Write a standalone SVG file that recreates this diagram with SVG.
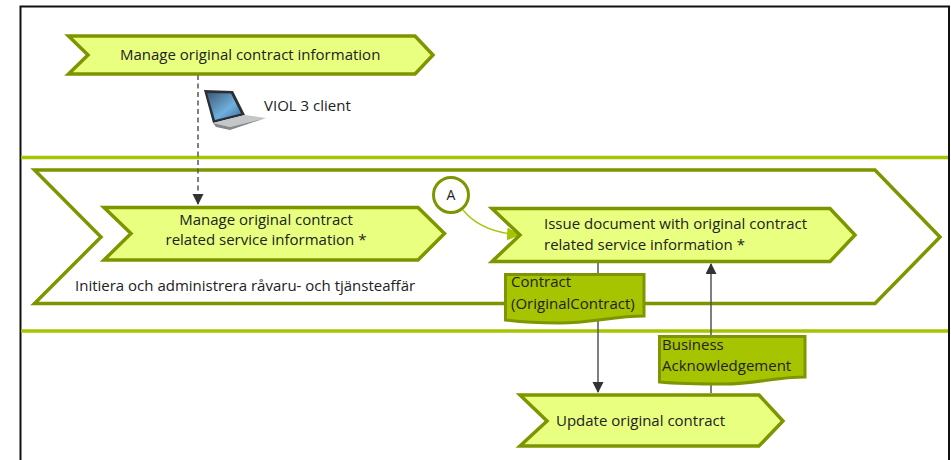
<svg xmlns="http://www.w3.org/2000/svg" width="951" height="460" viewBox="0 0 951 460">
<style>
text{font-family:"Open Sans","Liberation Sans",sans-serif;font-size:15px;fill:#222}
.p{fill:#e8ff80;stroke:#7f9500;stroke-width:3.500}
.o{fill:#fff;stroke:#7f9500;stroke-width:3.500}
.d{fill:#a6c400;stroke:#7f9500;stroke-width:3}
.s{stroke:#a6c400;stroke-width:3.500;fill:none}
.c{stroke:#555;stroke-width:1.500;fill:none}
</style>
<defs>
<marker id="ah" markerUnits="userSpaceOnUse" markerWidth="12" markerHeight="12" refX="10" refY="5.500" orient="auto"><path d="M0 0L11 5.500L0 11Z" fill="#333"/></marker>
<marker id="ag" markerUnits="userSpaceOnUse" markerWidth="14" markerHeight="14" refX="12" refY="6.500" orient="auto"><path d="M0 0L13 6.500L0 13Z" fill="#a6c400"/></marker>
<linearGradient id="lg" x1="0" y1="0" x2="1" y2="1"><stop offset="0" stop-color="#3f5a72"/><stop offset="0.600" stop-color="#6fb0e0"/><stop offset="1" stop-color="#3c6f98"/></linearGradient>
</defs>
<rect x="0" y="0" width="951" height="460" fill="#fff"/>
<path d="M20.500 460V6.500H949V460" fill="none" stroke="#111" stroke-width="2"/>
<path class="s" d="M21 157.500H948"/>
<path class="s" d="M21 331H948"/>
<g id="n-outer"><path class="o" d="M34.500 170H875L940 237L875 303.500H34.500L101 237Z"/><text x="75" y="291">Initiera och administrera råvaru- och tjänsteaffär</text></g>
<g id="connectors">
<path class="c" stroke-dasharray="5 3.500" d="M198 75V204" marker-end="url(#ah)"/>
<path d="M463 210C475 225 495 233 519 235" fill="none" stroke="#a6c400" stroke-width="1.300" marker-end="url(#ag)"/>
<path class="c" d="M598 263V392" marker-end="url(#ah)"/>
<path class="c" d="M711 393V264" marker-end="url(#ah)"/>
</g>
<g id="n-manage"><path class="p" d="M68.500 36H415L433 55L415 74H68.500L88 55Z"/><text x="120" y="60">Manage original contract information</text></g>
<g id="n-client">
<path d="M204 90L233 91L245 115L213 123Z" fill="#2a2f36"/><path d="M207 93L231 93.500L241 113.500L215 120Z" fill="url(#lg)"/>
<path d="M213 123L245 115L266 118L230 127Z" fill="#c4c6c8"/><path d="M213 123L230 127L266 118L230 130L216 127Z" fill="#85888a"/>
<text x="264" y="111">VIOL 3 client</text></g>
<g id="n-service"><path class="p" d="M104 207.500H418L444.500 233.500L418 260H104L131 233.500Z"/><text x="266" y="225" text-anchor="middle">Manage original contract</text><text x="266" y="245" text-anchor="middle">related service information *</text></g>
<g id="n-a"><circle cx="451" cy="195" r="17.500" fill="#fff" stroke="#7f9500" stroke-width="3"/><text x="451" y="200" text-anchor="middle" style="font-size:14px">A</text></g>
<g id="n-issue"><path class="p" d="M492 208.500H830L855 235L830 261.500H492L520 235Z"/><text x="544" y="229">Issue document with original contract</text><text x="544" y="250">related service information *</text></g>
<g id="n-contract"><path class="d" d="M505.500 274.500H644V316C615 316 590 323 560 323C535 323 520 322 505.500 320Z"/><text x="511" y="287">Contract</text><text x="511" y="309">(OriginalContract)</text></g>
<g id="n-ack"><path class="d" d="M659.500 336.500H805V377C775 377 755 384 725 384C700 384 680 384 659.500 382Z"/><text x="662" y="350">Business</text><text x="662" y="371">Acknowledgement</text></g>
<g id="n-update"><path class="p" d="M520 395H759L783 421L759 446H520L547 421Z"/><text x="556" y="426">Update original contract</text></g>
</svg>
